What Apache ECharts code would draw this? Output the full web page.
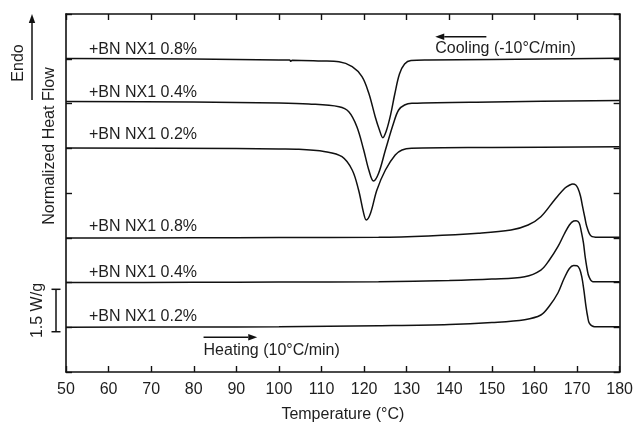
<!DOCTYPE html>
<html><head><meta charset="utf-8">
<script src="https://cdn.jsdelivr.net/npm/echarts@6/dist/echarts.min.js"></script>
<style>html,body{margin:0;padding:0;background:#fff}#c{width:636px;height:429px}</style>
</head><body><div id="c"></div>
<script>
// Temperature axis ticks (°C)
const xTicks = [50,60,70,80,90,100,110,120,130,140,150,160,170,180];
// Curves: [temperature °C, normalized heat flow (offset, axis units)]
const cool08 = [[50,7.006],[80,6.994],[100,6.972],[102.5,6.970],[102.8,6.943],[103.1,6.968],[110,6.950],[114.1,6.934],[117.2,6.822],[119.5,6.599],[121.1,6.228],[122.6,5.705],[123.6,5.408],[124.4,5.236],[125.2,5.385],[126.2,5.740],[127.2,6.212],[128.3,6.659],[129.5,6.883],[131,6.961],[135,6.972],[150,6.983],[180,7.010]];
const cool04 = [[50,6.045],[80,6.034],[100,6.011],[107,5.989],[114.1,5.928],[116.4,5.817],[118.3,5.482],[119.9,4.961],[121.1,4.514],[122.2,4.268],[123.4,4.440],[125.0,4.961],[126.9,5.558],[128.1,5.855],[129.5,5.966],[131.2,6.004],[150,6.034],[180,6.067]];
const cool02 = [[50,5.006],[90,4.994],[100,4.983],[104.7,4.977],[110.9,4.923],[114.8,4.811],[117.2,4.514],[118.7,4.067],[119.9,3.546],[120.5,3.397],[121.5,3.546],[123.0,4.067],[125.0,4.514],[127.3,4.849],[128.9,4.961],[131.1,4.999],[150,5.017],[180,5.035]];
const heat08 = [[50,2.994],[80,2.999],[100,3.006],[123.4,3.010],[135.1,3.039],[146.8,3.099],[154.5,3.173],[158.5,3.285],[161.5,3.470],[164.7,3.844],[167.1,4.105],[168.3,4.179],[169.0,4.201],[169.7,4.179],[170.2,4.105],[170.8,3.933],[171.3,3.694],[171.8,3.464],[172.3,3.247],[173.3,3.039],[174.9,3.010],[180,3.010]];
const heat04 = [[50,2.000],[80,2.004],[100,2.011],[123.4,2.018],[140,2.045],[150,2.078],[157.7,2.130],[161.5,2.279],[163.5,2.503],[165.5,2.800],[167,3.084],[168.2,3.285],[169.2,3.374],[169.8,3.381],[170.5,3.330],[171.0,3.135],[171.5,2.883],[171.9,2.577],[172.4,2.279],[172.8,2.130],[173.7,2.018],[180,2.018]];
const heat02 = [[50,1.000],[80,1.006],[100,1.012],[123.4,1.035],[140,1.061],[150,1.106],[157.7,1.170],[161.5,1.274],[163.5,1.475],[165.5,1.765],[167,2.100],[168.2,2.313],[169.2,2.380],[170.0,2.375],[170.6,2.300],[171.1,2.130],[171.6,1.830],[172.1,1.459],[172.5,1.230],[172.9,1.088],[174.1,1.012],[180,1.012]];
const seriesLabels = ['+BN NX1 0.8%','+BN NX1 0.4%','+BN NX1 0.2%','+BN NX1 0.8%','+BN NX1 0.4%','+BN NX1 0.2%'];
const labelAnchorY = [7.196,6.250,5.296,3.240,2.219,1.229];
const labelAnchorX = 55.4;

const FONT = '"Liberation Sans", Arial, sans-serif';
const TXT = '#1e1e1e';
const chart = echarts.init(document.getElementById('c'), null, {renderer:'canvas'});
const curves = [cool08, cool04, cool02, heat08, heat04, heat02];
const axisCommon = {
  axisLine:{show:true, onZero:false, lineStyle:{color:'#111', width:1.6}},
  axisTick:{show:true, inside:true, length:6, lineStyle:{color:'#111', width:1.4}},
  splitLine:{show:false}
};
chart.setOption({
  animation:false,
  backgroundColor:'#fff',
  grid:{left:66, right:14, top:14, bottom:57},
  xAxis:[
    Object.assign({type:'value', min:50, max:180, interval:10, position:'bottom',
      name:'Temperature (°C)', nameLocation:'middle', nameGap:35,
      nameTextStyle:{fontFamily:FONT, fontSize:16, color:TXT},
      axisLabel:{fontFamily:FONT, fontSize:16, color:TXT, margin:10,
        formatter:v=> xTicks.includes(v) ? String(v) : ''}}, axisCommon),
    Object.assign({type:'value', min:50, max:180, interval:10, position:'top', axisLabel:{show:false}}, axisCommon)
  ],
  yAxis:[
    Object.assign({type:'value', min:0, max:8, interval:1, position:'left', axisLabel:{show:false}}, axisCommon),
    Object.assign({type:'value', min:0, max:8, interval:1, position:'right', axisLabel:{show:false}}, axisCommon)
  ],
  series: curves.map(d=>({type:'line', data:d, xAxisIndex:0, yAxisIndex:0, showSymbol:false, smooth:0.35,
    lineStyle:{color:'#111', width:1.5}}))
});

function px(x,y){ return chart.convertToPixel({gridIndex:0},[x,y]); }
const g = [];
const txt = (x,y,s,opt={}) => Object.assign({type:'text', x:x, y:y, rotation:opt.rot||0,
  style:{text:s, x:0, y:0, font:(opt.size||16)+'px '+FONT, fill:TXT, textAlign:opt.align||'left', textVerticalAlign:'middle'}});
seriesLabels.forEach((s,i)=>{ const p = px(labelAnchorX, labelAnchorY[i]); g.push(txt(p[0], p[1], s)); });
function arrow(x1,y1,x2,y2){ // head at x2,y2
  const dx=x2-x1, dy=y2-y1, L=Math.hypot(dx,dy), ux=dx/L, uy=dy/L, hl=9, hw=3.2;
  const bx=x2-ux*hl, by=y2-uy*hl;
  g.push({type:'line', shape:{x1:x1,y1:y1,x2:bx,y2:by}, style:{stroke:'#111', lineWidth:1.5}});
  g.push({type:'polygon', shape:{points:[[x2,y2],[bx-uy*hw,by+ux*hw],[bx+uy*hw,by-ux*hw]]}, style:{fill:'#111'}});
}
// Cooling annotation
let p = px(136.7, 7.229); g.push(txt(p[0], p[1], 'Cooling (-10°C/min)'));
let a1 = px(148.7, 7.493), a2 = px(136.7, 7.493); arrow(a1[0],a1[1],a2[0],a2[1]);
// Heating annotation
p = px(82.3, 0.469); g.push(txt(p[0], p[1], 'Heating (10°C/min)'));
a1 = px(82.3, 0.775); a2 = px(94.9, 0.775); arrow(a1[0],a1[1],a2[0],a2[1]);
// Y axis title and Endo
g.push(txt(50, 146, 'Normalized Heat Flow', {rot:Math.PI/2, align:'center'}));
g.push(txt(19, 63, 'Endo', {rot:Math.PI/2, align:'center'}));
arrow(32, 100, 32, 14);
// Scale bar 1.5 W/g
const sb1 = px(50, 0.90)[1], sb2 = px(50, 1.848)[1];
g.push({type:'line', shape:{x1:56,y1:sb1,x2:56,y2:sb2}, style:{stroke:'#111', lineWidth:1.5}});
g.push({type:'line', shape:{x1:51.5,y1:sb1,x2:60.5,y2:sb1}, style:{stroke:'#111', lineWidth:1.5}});
g.push({type:'line', shape:{x1:51.5,y1:sb2,x2:60.5,y2:sb2}, style:{stroke:'#111', lineWidth:1.5}});
g.push(txt(38, (sb1+sb2)/2, '1.5 W/g', {rot:Math.PI/2, align:'center'}));
chart.setOption({graphic:g});
</script></body></html>
